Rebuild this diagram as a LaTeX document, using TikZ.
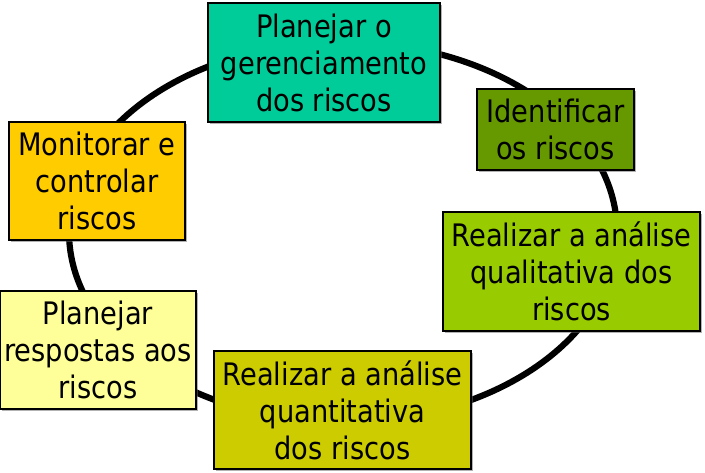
\documentclass[tikz,border=0pt]{standalone}
\usepackage{fontspec}
\setmainfont[FakeStretch=0.88]{DejaVu Sans}
\usepackage{tikz}
\usetikzlibrary{shadows}
\definecolor{verdeagua}{RGB}{0,204,153}
\definecolor{verdeescuro}{RGB}{102,153,0}
\definecolor{verdelima}{RGB}{153,204,0}
\definecolor{oliva}{RGB}{204,204,0}
\definecolor{amareloclaro}{RGB}{255,255,153}
\definecolor{laranja}{RGB}{255,204,0}

\begin{document}
\begin{tikzpicture}[x=1pt, y=-1pt,
		etapa/.style={draw=black, line width=2.6pt, inner sep=0pt, align=center,
			font=\fontsize{31}{37}\selectfont,
			drop shadow={shadow xshift=2pt, shadow yshift=-2pt, fill=black!60, opacity=.5}}]
	\useasboundingbox (0,0) rectangle (705,473);
	% ciclo
	\draw[line width=6.2pt] (343,232) ellipse [x radius=274, y radius=190];
	% etapas
	\node[etapa, fill=verdeagua, minimum width=232pt, minimum height=119pt] (planejar) at (324,62.5) {Planejar o\\gerenciamento\\dos riscos};
	\node[etapa, fill=verdeescuro, minimum width=157pt, minimum height=81pt] (identificar) at (555.5,129.5) {Identificar\\os riscos};
	\node[etapa, fill=verdelima, minimum width=257pt, minimum height=119pt] (qualitativa) at (571.5,271.5) {Realizar a análise\\qualitativa dos\\riscos};
	\node[etapa, fill=oliva, minimum width=257pt, minimum height=118pt] (quantitativa) at (342.5,410) {Realizar a análise\\quantitativa\\dos riscos};
	\node[etapa, fill=amareloclaro, minimum width=196pt, minimum height=118pt] (respostas) at (98,350) {Planejar\\respostas aos\\riscos};
	\node[etapa, fill=laranja, minimum width=176pt, minimum height=118pt] (monitorar) at (97,181) {Monitorar e\\controlar\\riscos};
\end{tikzpicture}
\end{document}
